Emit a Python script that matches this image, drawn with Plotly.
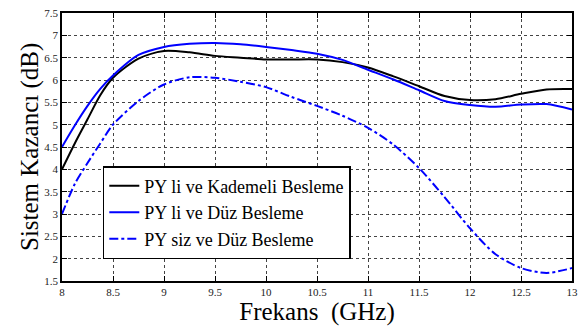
import plotly.graph_objects as go

freq_k = [8.0, 8.125, 8.25, 8.375, 8.5, 8.75, 9.0, 9.25, 9.5, 9.75, 10.0, 10.25, 10.5, 10.75, 11.0, 11.25, 11.5, 11.75, 12.0, 12.25, 12.5, 12.75, 13.0]
gain_k = [4.0, 4.58, 5.12, 5.66, 6.05, 6.48, 6.65, 6.62, 6.54, 6.5, 6.46, 6.46, 6.46, 6.4, 6.28, 6.08, 5.86, 5.64, 5.55, 5.57, 5.69, 5.79, 5.8]

freq_d = [8.0, 8.125, 8.25, 8.375, 8.5, 8.75, 9.0, 9.25, 9.5, 9.75, 10.0, 10.25, 10.5, 10.75, 11.0, 11.25, 11.5, 11.75, 12.0, 12.25, 12.5, 12.75, 13.0]
gain_d = [4.5, 4.98, 5.42, 5.8, 6.1, 6.56, 6.74, 6.81, 6.83, 6.8, 6.74, 6.67, 6.59, 6.45, 6.23, 6.01, 5.77, 5.53, 5.44, 5.4, 5.45, 5.46, 5.34]

freq_s = [8.0, 8.125, 8.25, 8.375, 8.5, 8.75, 9.0, 9.25, 9.5, 9.75, 10.0, 10.25, 10.5, 10.75, 11.0, 11.25, 11.5, 11.75, 12.0, 12.25, 12.5, 12.75, 13.0]
gain_s = [3.0, 3.67, 4.14, 4.58, 5.0, 5.53, 5.9, 6.06, 6.05, 5.96, 5.84, 5.62, 5.42, 5.2, 4.93, 4.55, 4.03, 3.38, 2.68, 2.1, 1.79, 1.68, 1.79]

names = ["PY li ve Kademeli Besleme", "PY li ve Düz Besleme", "PY siz ve Düz Besleme"]

x_ticks = [8, 8.5, 9, 9.5, 10, 10.5, 11, 11.5, 12, 12.5, 13]
x_labels = ["8", "8.5", "9", "9.5", "10", "10.5", "11", "11.5", "12", "12.5", "13"]
y_ticks = [1.5, 2, 2.5, 3, 3.5, 4, 4.5, 5, 5.5, 6, 6.5, 7, 7.5]
y_labels = ["1.5", "2", "2.5", "3", "3.5", "4", "4.5", "5", "5.5", "6", "6.5", "7", "7.5"]

x_title = "Frekans\u00a0\u00a0(GHz)"
y_title = "Sistem Kazancı (dB)"

font = "Liberation Serif"

fig = go.Figure()
fig.add_trace(go.Scatter(x=freq_k, y=gain_k, mode="lines", name=names[0],
                         line=dict(color="black", width=2, shape="spline", smoothing=0.8)))
fig.add_trace(go.Scatter(x=freq_d, y=gain_d, mode="lines", name=names[1],
                         line=dict(color="#0000ff", width=2, shape="spline", smoothing=0.8)))
fig.add_trace(go.Scatter(x=freq_s, y=gain_s, mode="lines", name=names[2],
                         line=dict(color="#0000ff", width=2, dash="dashdot", shape="spline", smoothing=0.8)))

axis_common = dict(showline=True, linecolor="black", linewidth=1.5, mirror="allticks",
                   ticks="inside", ticklen=5, tickcolor="black",
                   showgrid=True, gridcolor="#444", griddash="dot", gridwidth=1,
                   zeroline=False, tickfont=dict(family=font, size=11, color="#222"))

fig.update_xaxes(range=[8, 13], tickvals=x_ticks, ticktext=x_labels,
                 title=dict(text=x_title, font=dict(family=font, size=25, color="black"), standoff=0),
                 **axis_common)
fig.update_yaxes(range=[1.5, 7.5], tickvals=y_ticks, ticktext=y_labels, **axis_common)

fig.add_annotation(text=y_title, xref="paper", yref="paper", x=0, y=0.5,
                   xanchor="center", yanchor="middle", xshift=-32, textangle=-90,
                   showarrow=False, font=dict(family=font, size=25, color="black"))

fig.update_layout(
    width=585, height=329,
    margin=dict(l=62, r=11, t=7, b=48),
    paper_bgcolor="white", plot_bgcolor="white",
    font=dict(family=font),
    showlegend=True,
    legend=dict(x=0.08, y=0.255, xanchor="left", yanchor="middle",
                bgcolor="white", bordercolor="black", borderwidth=1.5,
                font=dict(family=font, size=18, color="black"),
                tracegroupgap=0, itemwidth=30),
)

fig.write_html("out.html")
